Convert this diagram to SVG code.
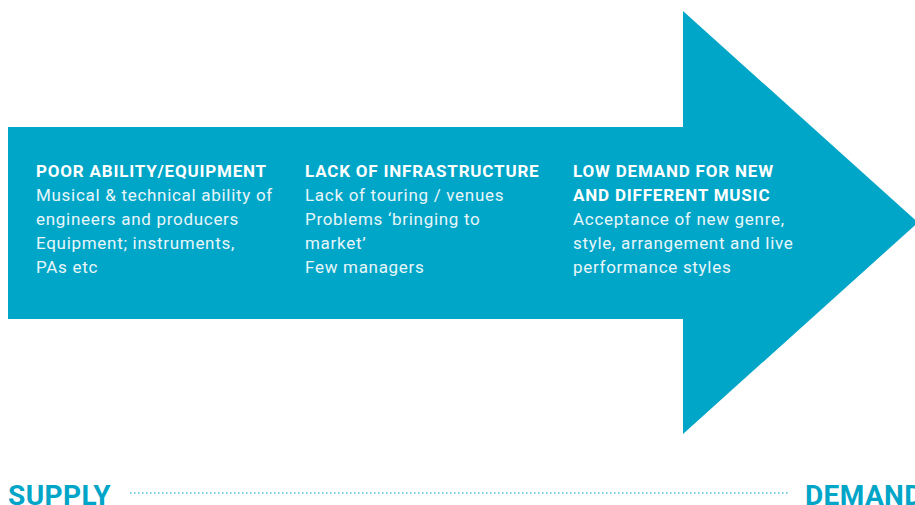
<svg xmlns="http://www.w3.org/2000/svg" width="915" height="505" viewBox="0 0 915 505">
<style>
.h{font-family:Roboto,"Liberation Sans",sans-serif;font-weight:bold;font-size:17px;letter-spacing:0.8px;fill:#ffffff}
.b{font-family:Roboto,"Liberation Sans",sans-serif;font-size:17px;letter-spacing:0.7px;fill:#e8f6fa}
.lbl{font-family:Roboto,"Liberation Sans",sans-serif;font-weight:bold;font-size:28px;letter-spacing:0.4px;fill:#00a5c8}
</style>
<rect width="915" height="505" fill="#ffffff"/>
<g id="arrow">
<polygon points="8,127 683,127 683,11 918,222.5 683,434 683,319 8,319" fill="#00a6c8"/>
</g>
<g id="node1">
<text class="h" x="36" y="177">POOR ABILITY/EQUIPMENT</text>
<text class="b" x="36" y="201">Musical &amp; technical ability of</text>
<text class="b" x="36" y="225">engineers and producers</text>
<text class="b" x="36" y="249">Equipment; instruments,</text>
<text class="b" x="36" y="273">PAs etc</text>
</g>
<g id="node2">
<text class="h" x="305" y="177">LACK OF INFRASTRUCTURE</text>
<text class="b" x="305" y="201">Lack of touring / venues</text>
<text class="b" x="305" y="225">Problems ‘bringing to</text>
<text class="b" x="305" y="249">market’</text>
<text class="b" x="305" y="273">Few managers</text>
</g>
<g id="node3">
<text class="h" x="573" y="177">LOW DEMAND FOR NEW</text>
<text class="h" x="573" y="201">AND DIFFERENT MUSIC</text>
<text class="b" x="573" y="225">Acceptance of new genre,</text>
<text class="b" x="573" y="249">style, arrangement and live</text>
<text class="b" x="573" y="273">performance styles</text>
</g>
<g id="supply"><text class="lbl" x="8" y="505">SUPPLY</text></g>
<g id="demand"><text class="lbl" x="805" y="505">DEMAND</text></g>
<g id="connectors">
<line x1="130" y1="493" x2="788" y2="493" stroke="#4cc0d8" stroke-width="1.5" stroke-dasharray="1.5 2.5"/>
</g>
</svg>
